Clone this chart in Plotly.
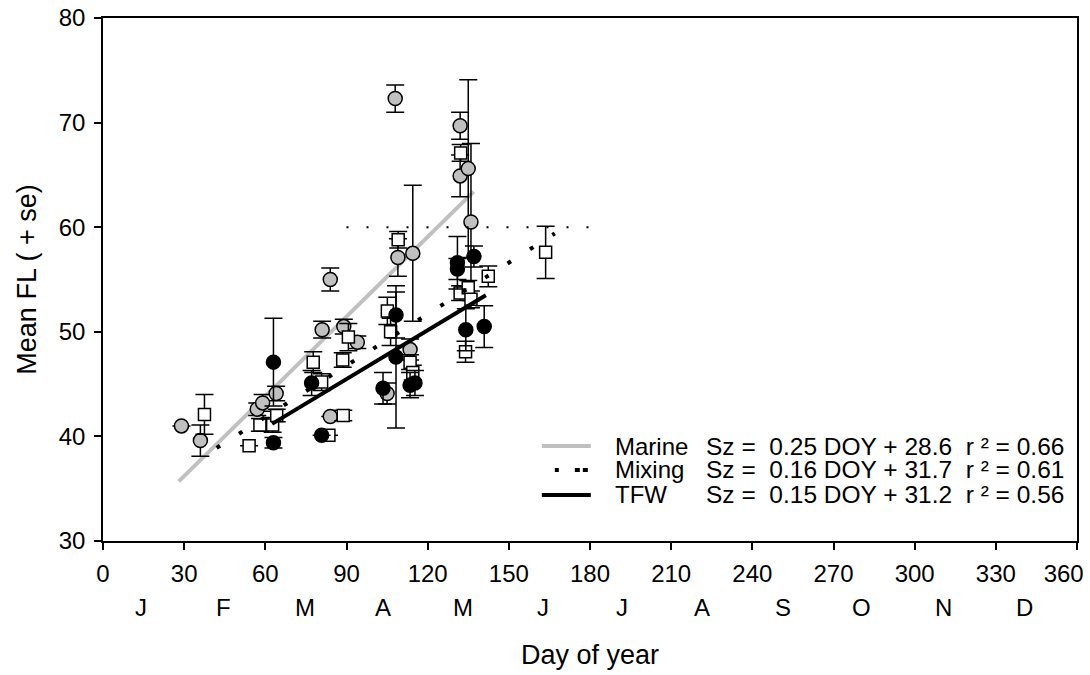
import plotly.graph_objects as go

# ---------------- data ----------------
marine_doy = [29, 36, 57, 59, 64, 81, 84, 84, 89, 94, 105, 108, 109, 113.5, 114.5, 132, 132, 135, 136]
marine_fl = [41.0, 39.6, 42.6, 43.2, 44.1, 50.2, 55.0, 41.9, 50.5, 49.0, 44.1, 72.3, 57.1, 48.3, 57.5, 69.7, 64.9, 65.6, 60.5]
marine_se = [0, 1.5, 0.6, 0.8, 0.7, 0.8, 1.1, 0, 0.7, 0.6, 1.0, 1.3, 1.8, 1.0, 6.5, 1.3, 2.0, 8.5, 7.5]

mixing_doy = [37.5, 54, 58, 62.7, 64.2, 77.7, 80.8, 83.5, 88.6, 88.8, 90.7, 105.1, 106.3, 109.1,
              113.5, 114.5, 132.2, 132, 134, 135, 136, 142.4, 163.6]
mixing_fl = [42.1, 39.1, 41.1, 41.1, 42.0, 47.1, 45.2, 40.1, 47.3, 42.0, 49.5, 52.0, 50.0, 58.8,
             47.1, 46.1, 67.1, 53.7, 48.1, 54.2, 53.1, 55.3, 57.6]
mixing_se = [1.9, 0, 0.6, 0.7, 0.6, 1.0, 0.8, 0, 0.7, 0.5, 1.3, 1.3, 1.3, 0.8,
             0.7, 0.7, 0.8, 0.7, 1.0, 0.7, 0.8, 1.0, 2.5]

tfw_doy = [63, 63, 77.1, 80.8, 103.5, 108.3, 108.3, 113.5, 115.3, 131, 131, 134.1, 137.1, 140.9]
tfw_fl = [47.1, 39.4, 45.1, 40.1, 44.6, 51.6, 47.6, 44.9, 45.1, 56.6, 56.0, 50.2, 57.2, 50.5]
tfw_se = [4.2, 0.5, 1.2, 0, 1.5, 2.2, 6.8, 1.2, 1.2, 2.5, 1.0, 2.0, 1.0, 2.0]

# regression lines (end points)
marine_fit_x = [28, 137]
marine_fit_y = [35.7, 63.4]
mixing_fit_x = [42, 167]
mixing_fit_y = [38.9, 59.4]
tfw_fit_x = [62.5, 141.5]
tfw_fit_y = [41.2, 53.5]

# reference line at 60
ref_x = [90, 180]
ref_y = [60, 60]

# legend rows
legend_names = ["Marine", "Mixing", "TFW"]
legend_eqs = ["Sz =\u00a0\u00a00.25 DOY + 28.6\u00a0\u00a0r\u00a0\u00b2 = 0.66",
              "Sz =\u00a0\u00a00.16 DOY + 31.7\u00a0\u00a0r\u00a0\u00b2 = 0.61",
              "Sz =\u00a0\u00a00.15 DOY + 31.2\u00a0\u00a0r\u00a0\u00b2 = 0.56"]
legend_y = [39.08, 36.79, 34.40]

x_ticks = list(range(0, 361, 30))
x_ticktext = [str(v) for v in x_ticks[:-1]] + ["360\u00a0\u00a0\u00a0\u00a0"]  # last label nudged inside the page
months = ["J", "F", "M", "A", "M", "J", "J", "A", "S", "O", "N", "D"]
month_pos = [14, 44.5, 74.5, 103.5, 133, 162.5, 192, 221.5, 251.5, 280.5, 310.5, 340.5]

FONT = "Liberation Sans, Arial, sans-serif"
GRAY = "#c0c0c0"

fig = go.Figure()

# marine fit (under the markers)
fig.add_trace(go.Scatter(x=marine_fit_x, y=marine_fit_y, mode="lines",
                         line=dict(color=GRAY, width=4), showlegend=False, hoverinfo="skip"))

err = dict(type="data", visible=True, color="black", thickness=1.5, width=9)

fig.add_trace(go.Scatter(x=marine_doy, y=marine_fl, mode="markers", name="Marine",
                         error_y=dict(array=marine_se, **err),
                         marker=dict(symbol="circle", size=14, color=GRAY,
                                     line=dict(color="black", width=1.5)),
                         showlegend=False))
fig.add_trace(go.Scatter(x=mixing_doy, y=mixing_fl, mode="markers", name="Mixing",
                         error_y=dict(array=mixing_se, **err),
                         marker=dict(symbol="square", size=12, color="white",
                                     line=dict(color="black", width=1.5)),
                         showlegend=False))
fig.add_trace(go.Scatter(x=tfw_doy, y=tfw_fl, mode="markers", name="TFW",
                         error_y=dict(array=tfw_se, **err),
                         marker=dict(symbol="circle", size=14, color="black",
                                     line=dict(color="black", width=1.5)),
                         showlegend=False))

fig.add_trace(go.Scatter(x=mixing_fit_x, y=mixing_fit_y, mode="lines",
                         line=dict(color="black", width=4, dash="4px,22.5px"),
                         showlegend=False, hoverinfo="skip"))
fig.add_trace(go.Scatter(x=tfw_fit_x, y=tfw_fit_y, mode="lines",
                         line=dict(color="black", width=4), showlegend=False, hoverinfo="skip"))
fig.add_trace(go.Scatter(x=ref_x, y=ref_y, mode="lines",
                         line=dict(color="black", width=2, dash="2px,18px"),
                         showlegend=False, hoverinfo="skip"))

# manual legend
key_x0 = [162.2, 167.0, 162.2]
key_styles = [dict(color=GRAY, width=4),
              dict(color="black", width=4, dash="4px,16px,5px,3px,5px,60px"),
              dict(color="black", width=4)]
annotations = []
shapes = []
for name, eq, yy, st, kx in zip(legend_names, legend_eqs, legend_y, key_styles, key_x0):
    shapes.append(dict(type="line", xref="x", yref="y", x0=kx, x1=180.3, y0=yy, y1=yy, line=st))
    annotations.append(dict(x=188.5, y=yy, xref="x", yref="y", text=name, showarrow=False,
                            xanchor="left", yanchor="middle", font=dict(size=24, color="black", family=FONT)))
    annotations.append(dict(x=222.1, y=yy, xref="x", yref="y", text=eq, showarrow=False,
                            xanchor="left", yanchor="middle", font=dict(size=24.5, color="black", family=FONT)))

for m, p in zip(months, month_pos):
    annotations.append(dict(x=p, y=-0.127, xref="x", yref="paper", text=m, showarrow=False,
                            xanchor="center", yanchor="middle", font=dict(size=24, color="black", family=FONT)))

fig.update_layout(
    width=1090, height=675,
    margin=dict(l=103, r=13, t=18, b=134),
    paper_bgcolor="white", plot_bgcolor="white",
    font=dict(family=FONT, size=24, color="black"),
    shapes=shapes, annotations=annotations,
    showlegend=False,
)
fig.update_xaxes(range=[0, 360], tickvals=x_ticks, ticktext=x_ticktext, ticks="outside", ticklen=7,
                 tickwidth=1.5, tickcolor="black", showline=True, linecolor="black", linewidth=1.5,
                 mirror=True, showgrid=False, zeroline=False, tickfont=dict(size=24), automargin=False,
                 ticklabelstandoff=3, ticklabeloverflow="allow",
                 title=dict(text="Day of year", font=dict(size=27), standoff=60))
fig.update_yaxes(range=[30, 80], dtick=10, ticks="outside", ticklen=7, tickwidth=1.5,
                 tickcolor="black", showline=True, linecolor="black", linewidth=1.5, mirror=True,
                 showgrid=False, zeroline=False, tickfont=dict(size=24), automargin=False,
                 ticklabelstandoff=4, ticklabeloverflow="allow",
                 title=dict(text="Mean FL ( + se)", font=dict(size=27), standoff=14))

# remove the browser's default 8px body margin so the figure fills the window exactly
fig.write_html("out.html", config={"displayModeBar": False},
               post_script="document.body.style.margin='0';")
